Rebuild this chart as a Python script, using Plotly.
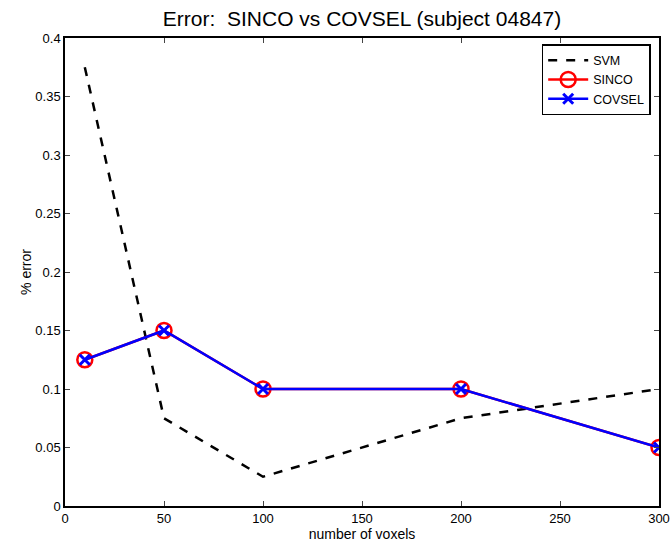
import plotly.graph_objects as go

voxels = [10, 50, 100, 200, 300]
svm_err = [0.375, 0.075, 0.025, 0.075, 0.1]
sinco_err = [0.125, 0.15, 0.1, 0.1, 0.05]
covsel_err = [0.125, 0.15, 0.1, 0.1, 0.05]
x_ticks = [0, 50, 100, 150, 200, 250, 300]
y_ticks = [0, 0.05, 0.1, 0.15, 0.2, 0.25, 0.3, 0.35, 0.4]
y_tick_text = ["0", "0.05", "0.1", "0.15", "0.2", "0.25", "0.3", "0.35", "0.4"]

fig = go.Figure()
fig.add_trace(go.Scatter(x=voxels, y=svm_err, mode="lines", name="SVM",
                         line=dict(color="black", width=2.5, dash="dash")))
fig.add_trace(go.Scatter(x=voxels, y=sinco_err, mode="lines+markers", name="SINCO",
                         line=dict(color="red", width=2.5),
                         marker=dict(symbol="circle-open", size=15, color="red",
                                     line=dict(width=2.5, color="red"))))
fig.add_trace(go.Scatter(x=voxels, y=covsel_err, mode="lines+markers", name="COVSEL",
                         line=dict(color="blue", width=2.5),
                         marker=dict(symbol="x-thin-open", size=10, color="blue",
                                     line=dict(width=3, color="blue"))))

font = "Liberation Sans, Arial, sans-serif"
fig.update_layout(
    width=670, height=546,
    margin=dict(l=65, r=11, t=38, b=40, autoexpand=False),
    paper_bgcolor="white", plot_bgcolor="white",
    font=dict(family=font, size=13, color="black"),
    title=dict(text="Error:  SINCO vs COVSEL (subject 04847)", x=(65 + 659) / 2 / 670, xref="container",
               xanchor="center", y=1 - 19 / 546, yref="container", yanchor="middle",
               font=dict(size=21, family=font, color="black"), automargin=False),
    showlegend=True,
    legend=dict(x=0.986, y=0.987, xanchor="right", yanchor="top",
                bordercolor="black", borderwidth=1.5, bgcolor="white",
                font=dict(size=12.5, family=font), tracegroupgap=0,
                itemwidth=40),
    xaxis=dict(range=[0, 300], tickvals=x_ticks, ticks="inside", ticklen=5,
               showline=True, linecolor="black", linewidth=1.5, mirror="ticks",
               showgrid=False, zeroline=False, automargin=False,
               title=dict(text="number of voxels", standoff=0, font=dict(size=14)),
               tickfont=dict(size=13)),
    yaxis=dict(range=[0, 0.4], tickvals=y_ticks, ticktext=y_tick_text, ticks="inside", ticklen=5,
               showline=True, linecolor="black", linewidth=1.5, mirror="ticks",
               showgrid=False, zeroline=False, automargin=False,
               title=dict(text="% error", standoff=0, font=dict(size=14)),
               tickfont=dict(size=13)),
)
fig.write_html("out.html")
